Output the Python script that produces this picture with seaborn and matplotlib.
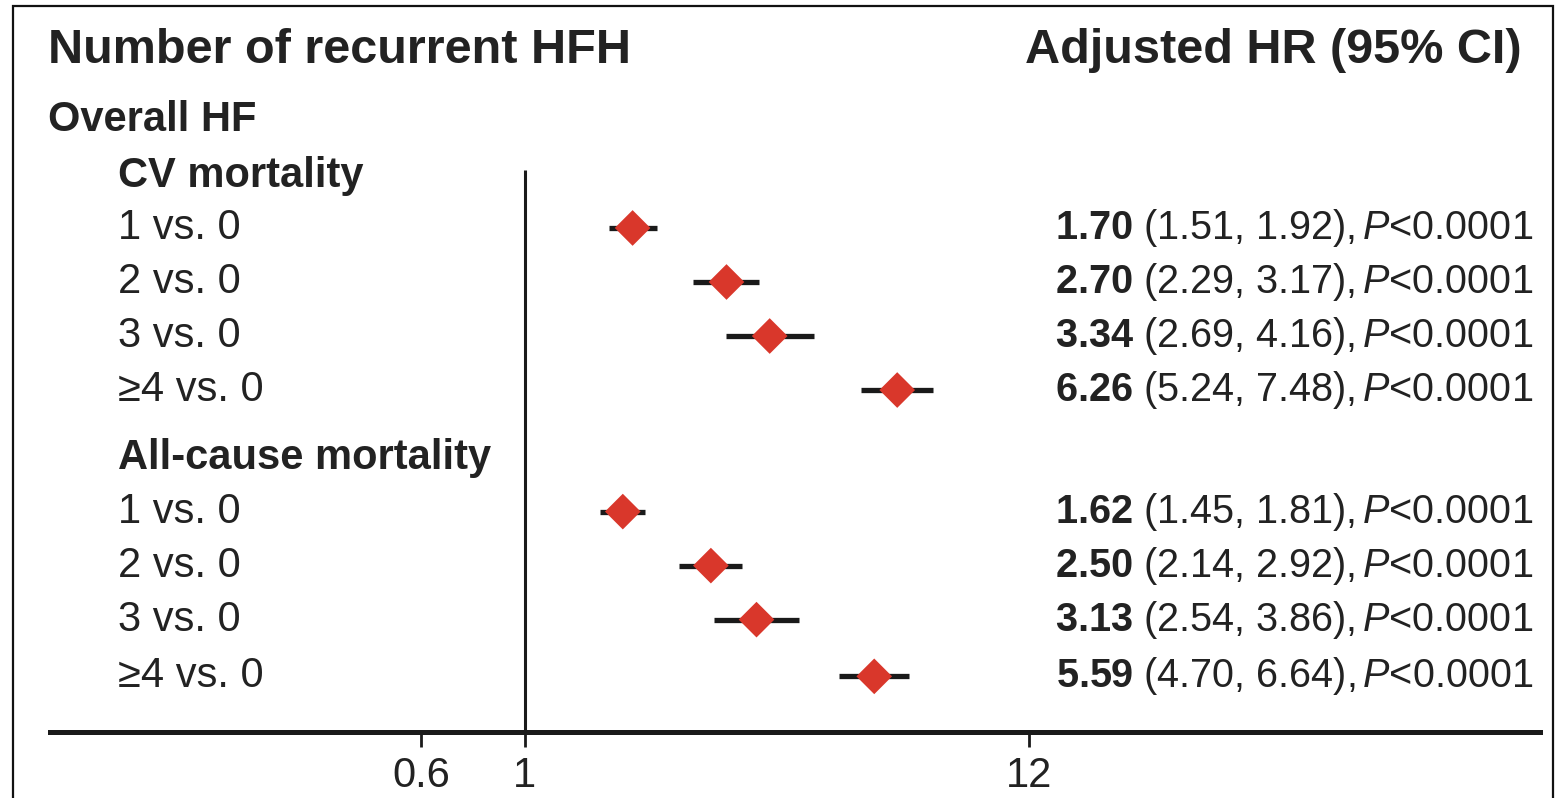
import matplotlib
matplotlib.use("Agg")
import matplotlib.pyplot as plt
import matplotlib.transforms as mtransforms
from matplotlib import font_manager
from matplotlib.patches import Rectangle
import pandas as pd
import seaborn as sns

# data
row_labels = ["1 vs. 0", "2 vs. 0", "3 vs. 0", "\u22654 vs. 0"]
cv_hr = [1.70, 2.70, 3.34, 6.26]
cv_lo = [1.51, 2.29, 2.69, 5.24]
cv_hi = [1.92, 3.17, 4.16, 7.48]
all_hr = [1.62, 2.50, 3.13, 5.59]
all_lo = [1.45, 2.14, 2.54, 4.70]
all_hi = [1.81, 2.92, 3.86, 6.64]
p_text = "P<0.0001"
x_ticks = [0.6, 1, 12]
x_ticklabels = ["0.6", "1", "12"]


def pick_font(name, fallback="Liberation Sans"):
    try:
        font_manager.findfont(name, fallback_to_default=False)
        return name
    except ValueError:
        return fallback


narrow = pick_font("Liberation Sans Narrow")

sns.set_theme(style="white")
plt.rcParams["font.family"] = [narrow, "DejaVu Sans"]
plt.rcParams["mathtext.fontset"] = "custom"
plt.rcParams["mathtext.rm"] = narrow
plt.rcParams["mathtext.bf"] = narrow + ":bold"
plt.rcParams["mathtext.it"] = narrow + ":italic"

# row layout (row units, top to bottom)
cv_pos = [2, 3, 4, 5]
all_pos = [7.25, 8.25, 9.25, 10.3]

df = pd.DataFrame({
    "label": row_labels * 2,
    "hr": cv_hr + all_hr,
    "lo": cv_lo + all_lo,
    "hi": cv_hi + all_hi,
    "pos": cv_pos + all_pos,
})

W, H = 1558, 798
fig = plt.figure(figsize=(W / 100, H / 100), dpi=100)
ax = fig.add_axes([50 / W, 66 / H, 1490 / W, 732 / H])
ax.set_xscale("log")
ax.set_xlim(0.0964, 148.5)
ax.set_ylim(11.33, -2.22)

# CI bars and diamonds
ax.hlines(df["pos"], df["lo"], df["hi"], color="#1a1a1a", lw=3.8, zorder=2)
sns.scatterplot(data=df, x="hr", y="pos", marker="D", s=330, color="#d9372b",
                edgecolor="none", ax=ax, zorder=3, legend=False)

# line of no effect
ax.vlines(1, 0.93, 11.33, color="#1a1a1a", lw=2.2, zorder=1)

for side in ["top", "left", "right"]:
    ax.spines[side].set_visible(False)
ax.spines["bottom"].set_linewidth(3.6)
ax.spines["bottom"].set_color("#1a1a1a")
ax.set_xticks(x_ticks)
ax.set_xticklabels(x_ticklabels, fontsize=30, color="#222222")
ax.xaxis.set_minor_locator(matplotlib.ticker.NullLocator())
ax.tick_params(axis="x", direction="out", length=11, width=2, color="#1a1a1a",
               pad=6, bottom=True)
ax.set_yticks([])
ax.set_xlabel("")
ax.set_ylabel("")

# text columns
tr = mtransforms.blended_transform_factory(fig.transFigure, ax.transData)
ax.text(48 / W, -1.28, "Number of recurrent HFH", transform=tr, fontsize=35,
        fontweight="bold", color="#222222", va="center", ha="left")
ax.text(1522 / W, -1.28, "Adjusted HR (95% CI)", transform=tr, fontsize=35,
        fontweight="bold", color="#222222", va="center", ha="right")
ax.text(48 / W, 0, "Overall HF", transform=tr, fontsize=30,
        fontweight="bold", color="#222222", va="center", ha="left")
ax.text(118 / W, 1.03, "CV mortality", transform=tr, fontsize=30,
        fontweight="bold", color="#222222", va="center", ha="left")
ax.text(118 / W, 6.25, "All-cause mortality", transform=tr, fontsize=30,
        fontweight="bold", color="#222222", va="center", ha="left")

for _, r in df.iterrows():
    ax.text(118 / W, r["pos"], r["label"], transform=tr, fontsize=30,
            color="#222222", va="center", ha="left")
    s = r"$\mathbf{%.2f}$ (%.2f, %.2f),$\,\mathit{P}$<0.0001" % (r["hr"], r["lo"], r["hi"])
    ax.text(1533 / W, r["pos"], s, transform=tr, fontsize=28.5,
            color="#222222", va="center", ha="right")

# frame around the figure
fig.patches.append(Rectangle((13 / W, -0.1), 1540 / W, 0.1 + 792 / H,
                             transform=fig.transFigure, fill=False,
                             edgecolor="#111111", lw=1.6))

fig.savefig("out.png", dpi=100)
